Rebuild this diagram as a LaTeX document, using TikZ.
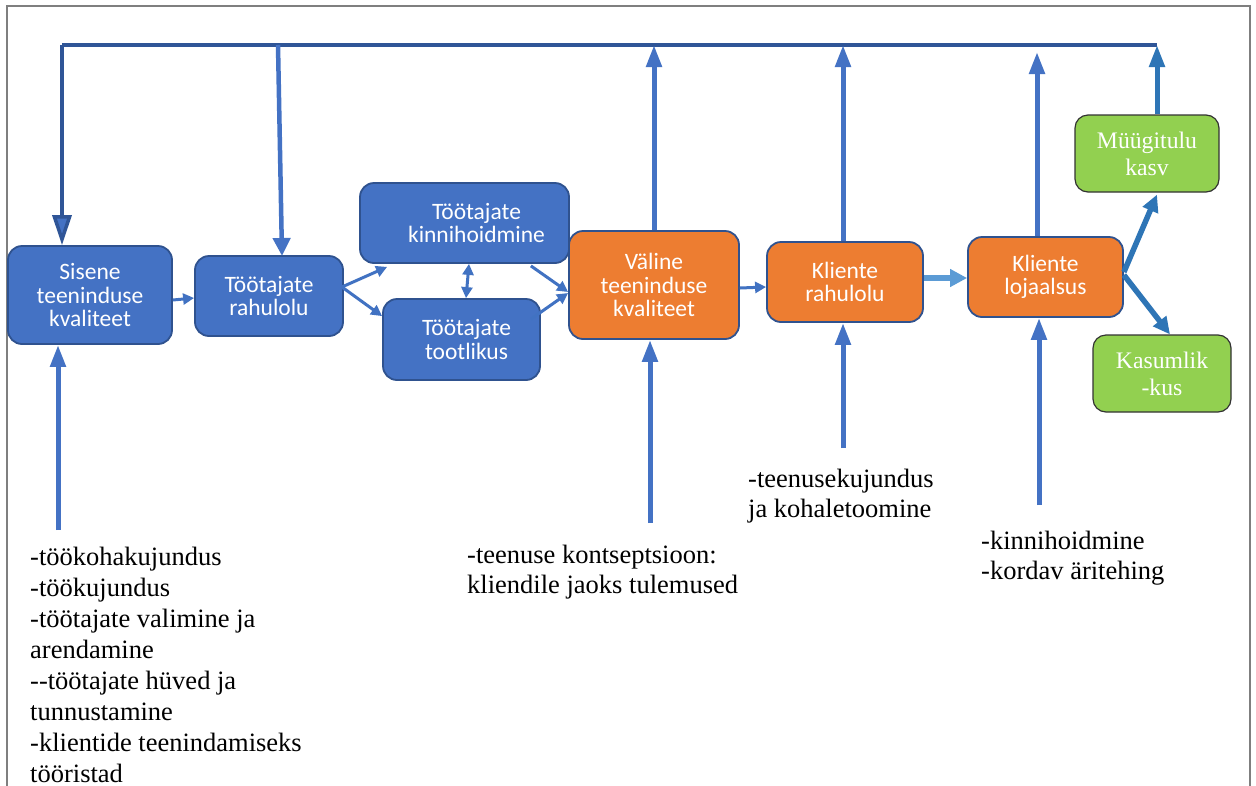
\documentclass[tikz,border=0pt]{standalone}
\usepackage{fontspec}
\setmainfont{Liberation Serif}
\newfontfamily\boxfont{Carlito}
\usetikzlibrary{arrows.meta,calc}
\definecolor{bblue}{HTML}{4472C4}
\definecolor{dblue}{HTML}{2F528F}
\definecolor{tblue}{HTML}{2F5597}
\definecolor{orng}{HTML}{ED7D31}
\definecolor{grn}{HTML}{92D050}
\definecolor{sblue}{HTML}{5B9BD5}
\definecolor{mblue}{HTML}{2E75B6}
\definecolor{frame}{HTML}{7F7F7F}
\tikzset{
  box/.style={rectangle, rounded corners=14pt, draw=dblue, line width=1.8pt, fill=bblue,
    text=white, font=\boxfont\fontsize{23.5}{23.5}\selectfont, align=center, inner sep=0pt},
  obox/.style={box, fill=orng},
  gbox/.style={rectangle, rounded corners=13pt, draw=black!80, line width=1.2pt, fill=grn,
    text=white, font=\fontsize{23.7}{27}\selectfont, align=center, inner sep=0pt},
  topline/.style={draw=tblue, line width=3.5pt},
  bigup/.style={draw=bblue, line width=5pt, -{Triangle[length=22pt,width=15pt]}},
  small/.style={draw=bblue!85!mblue, line width=3pt, -{Triangle[length=11pt,width=11pt]}},
  grnarr/.style={draw=mblue, line width=5.5pt, -{Triangle[length=17pt,width=16pt]}},
  note/.style={anchor=north west, align=left, inner sep=0pt, font=\fontsize{26.5}{31}\selectfont},
}
\begin{document}
\begin{tikzpicture}[x=1pt,y=-1pt]
\useasboundingbox (0,0) rectangle (1256,785);
\fill[white] (0,0) rectangle (1256,785);
\draw[frame, line width=1.3pt] (7,800) -- (7,6) -- (1250,6) -- (1250,800);

% boxes
\node[box, minimum width=164pt, minimum height=98pt] (sis) at (90,295) {Sisene\\teeninduse\\kvaliteet};
\node[box, minimum width=148pt, minimum height=80pt] (rah) at (269,296) {Töötajate\\rahulolu};
\node[box, minimum width=209pt, minimum height=80pt] (kin) at (464.5,223) {\hspace*{24pt}Töötajate\\\hspace*{24pt}kinnihoidmine};
\node[box, minimum width=157pt, minimum height=81pt] (too) at (461.5,339.5) {\hspace*{10pt}Töötajate\\\hspace*{10pt}tootlikus};
\node[obox, minimum width=170pt, minimum height=108pt] (val) at (654,285) {Väline\\teeninduse\\kvaliteet};
\node[obox, minimum width=156pt, minimum height=80pt] (kr) at (845,282) {Kliente\\rahulolu};
\node[obox, minimum width=155pt, minimum height=80pt] (kl) at (1045.5,277) {Kliente\\lojaalsus};
\node[gbox, minimum width=144pt, minimum height=77pt] (mk) at (1147,153.5) {Müügitulu\\kasv};
\node[gbox, minimum width=138pt, minimum height=77pt] (ka) at (1162,373.5) {Kasumlik\\-kus};

% top feedback line
\coordinate (tl) at (62,45);
\coordinate (tr) at (1157,45);
\coordinate (t2) at (278,45);
\coordinate (r2) at (282,256);
\coordinate (klt) at (1037,52);
\draw[topline] (tl) -- (tr);
\draw[topline, -{Triangle[length=30pt,width=19pt,fill=bblue]}] (tl) -- (tl |- sis.north);
\draw[draw=bblue, line width=4.5pt, -{Triangle[length=18pt,width=17pt]}] (t2) -- (r2);

% up arrows to top line
\draw[bigup] (val.north) -- (val.north |- tl);
\draw[bigup] ([xshift=-2pt]kr.north) -- ([xshift=-2pt]kr.north |- tl);
\draw[bigup] ([xshift=-8.5pt]kl.north) -- (klt);
\draw[bigup, draw=mblue] ([xshift=10pt]mk.north) -- (tr);

% up arrows from below
\coordinate (b1) at (58,530);
\coordinate (b2) at (650,523);
\coordinate (b3) at (843,448);
\coordinate (b4) at (1039,505);
\draw[bigup] (b1) -- (b1 |- sis.south);
\draw[bigup] (b2) -- (b2 |- val.south);
\draw[bigup] (b3) -- (b3 |- kr.south);
\draw[bigup] (b4) -- (b4 |- kl.south);

% flow arrows
\draw[small] ($(sis.east)+(0,5)$) -- ($(rah.west)+(0,2)$);
\coordinate (rs) at ($(rah.east)+(-2,-9)$);
\draw[small] (rs) -- ($(kin.south west)+(28,3)$);
\draw[small] (rs) -- ($(too.north west)+(0,18)$);
\draw[small, {Triangle[length=11pt,width=11pt]}-{Triangle[length=11pt,width=11pt]}] ($(kin.south)+(4.5,0)$) -- ($(too.north)+(4.5,0)$);
\draw[small] ($(kin.south east)+(-39,2)$) -- ($(val.west)+(0,7)$);
\draw[small] ($(too.north east)+(-10,21)$) -- ($(val.west)+(0,8)$);
\draw[small] ($(val.east)+(0,3)$) -- ($(kr.west)+(0,5)$);
\draw[draw=sblue, line width=6pt, -{Triangle[length=17pt,width=17pt]}] ($(kr.east)+(0,-4)$) -- ($(kl.west)+(0,1)$);
\draw[grnarr] ($(kl.east)+(0,-5)$) -- ($(mk.south)+(10,2)$);
\draw[grnarr] ($(kl.east)+(0,-2)$) -- ($(ka.north)+(8,0)$);

% notes
\node[note] (n1) at (30,547) {-töökohakujundus\\-töökujundus\\-töötajate valimine ja\\arendamine\\-{}-töötajate hüved ja\\tunnustamine\\-klientide teenindamiseks\\tööristad};
\node[note, font=\fontsize{26.5}{30}\selectfont] (n2) at (467,545) {-teenuse kontseptsioon:\\kliendile jaoks tulemused};
\node[note, font=\fontsize{26.5}{30}\selectfont] (n3) at (748,469) {-teenusekujundus\\ja kohaletoomine};
\node[note, font=\fontsize{26.5}{30}\selectfont] (n4) at (981,531) {-kinnihoidmine\\-kordav äritehing};
\end{tikzpicture}
\end{document}
